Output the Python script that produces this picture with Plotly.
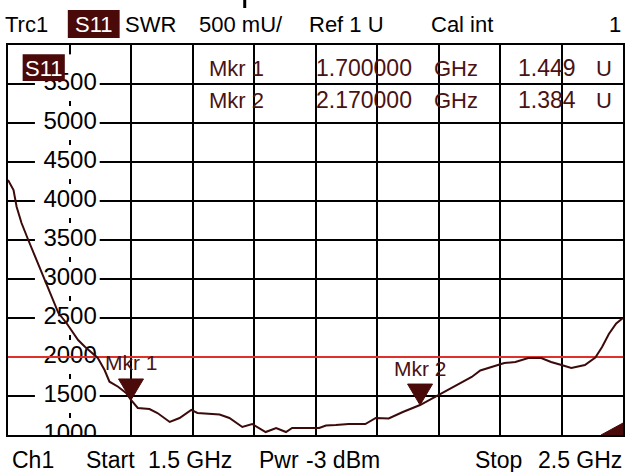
import plotly.graph_objects as go

# ---------------- data ----------------
freq_ghz = [1.500, 1.509, 1.514, 1.522, 1.533, 1.544, 1.555, 1.565, 1.573, 1.582,
            1.595, 1.603, 1.614, 1.625, 1.636, 1.646, 1.657, 1.665, 1.679, 1.692,
            1.700, 1.711, 1.730, 1.743, 1.763, 1.779, 1.798, 1.808, 1.844, 1.860,
            1.881, 1.897, 1.919, 1.936, 1.952, 1.962, 2.006, 2.017, 2.033, 2.054,
            2.081, 2.098, 2.119, 2.142, 2.170, 2.195, 2.216, 2.237, 2.254, 2.268,
            2.289, 2.307, 2.325, 2.346, 2.367, 2.383, 2.400, 2.416, 2.438, 2.455,
            2.466, 2.477, 2.489, 2.500]
swr_mu = [4269, 4141, 3927, 3718, 3500, 3286, 3077, 2901, 2731, 2564,
          2436, 2346, 2218, 2132, 2051, 1987, 1833, 1683, 1619, 1538,
          1449, 1346, 1333, 1282, 1167, 1218, 1321, 1282, 1263, 1218,
          1103, 1141, 1038, 1090, 1038, 1090, 1090, 1122, 1128, 1141,
          1141, 1218, 1212, 1295, 1384, 1491, 1577, 1667, 1744, 1827,
          1878, 1923, 1936, 1987, 1987, 1936, 1897, 1859, 1897, 1994,
          2128, 2295, 2429, 2500]

y_tick_values = [1000, 1500, 2000, 2500, 3000, 3500, 4000, 4500, 5000, 5500]
y_tick_labels = ["1000", "1500", "2000", "2500", "3000", "3500", "4000", "4500", "5000", "5500"]
label_axis_ghz = 1.601

marker_names = ["Mkr 1", "Mkr 2"]
marker_freq_ghz = [1.700, 2.170]
marker_swr_u = [1.449, 1.384]
limit_mu = 2000
ref_mu = 1000

x_start, x_stop = 1.5, 2.5
y_min, y_max = 1000, 6000

# ---------------- layout helpers ----------------
W, H = 625, 472
ML, MR, MT, MB = 8, 0, 45, 37
PW, PH = W - ML - MR, H - MT - MB
MAROON = "#4a0a0a"
TRACE = "#3b0b0b"
TXT_M = "#4a1212"
FONT = "Liberation Sans, Arial, sans-serif"


def px(xp):  # page pixel -> paper x
    return (xp - ML) / PW


def py(yp):  # page pixel -> paper y
    return (MT + PH - yp) / PH


fig = go.Figure()

# y-axis labels drawn inside the plot area (clipped)
fig.add_trace(go.Scatter(
    x=[label_axis_ghz] * len(y_tick_values), y=y_tick_values, text=y_tick_labels,
    mode="text", textposition="middle center",
    textfont=dict(family=FONT, size=24, color="black"),
    cliponaxis=True, hoverinfo="skip", showlegend=False))

# limit line
fig.add_trace(go.Scatter(
    x=[x_start, x_stop], y=[limit_mu, limit_mu], mode="lines",
    line=dict(color="#e0302c", width=2), hoverinfo="skip", showlegend=False))

# SWR trace
fig.add_trace(go.Scatter(
    x=freq_ghz, y=swr_mu, mode="lines",
    line=dict(color=TRACE, width=2), showlegend=False))

shapes = []
# white boxes behind the y labels
for v in y_tick_values:
    shapes.append(dict(type="rect", xref="x", yref="y", x0=1.5438, x1=1.6491,
                       y0=v - 218, y1=v + 218, fillcolor="white",
                       line=dict(width=0), layer="between"))
shapes.append(dict(type="rect", xref="x", yref="y", x0=1.585, x1=1.62,
                   y0=5600, y1=5880, fillcolor="white", line=dict(width=0), layer="between"))

# marker triangles (tip at the marker value)
for f, v in zip(marker_freq_ghz, marker_swr_u):
    shapes.append(dict(type="path", xref="x", yref="y", xsizemode="pixel", ysizemode="pixel",
                       xanchor=f, yanchor=v * 1000, path="M 0,0 L -12.5,21 L 12.5,21 Z",
                       fillcolor=MAROON, line=dict(color=MAROON, width=1), layer="above"))
# reference level triangle at right edge
shapes.append(dict(type="path", xref="x", yref="y", xsizemode="pixel", ysizemode="pixel",
                   xanchor=x_stop, yanchor=ref_mu, path="M -22,0 L 0,12 L 0,-12 Z",
                   fillcolor=MAROON, line=dict(color=MAROON, width=1), layer="above"))

# S11 boxes
shapes.append(dict(type="rect", xref="paper", yref="paper", x0=px(68), x1=px(120),
                   y0=py(38), y1=py(10), fillcolor=MAROON, line=dict(width=0), layer="above"))
shapes.append(dict(type="rect", xref="paper", yref="paper", x0=px(22.7), x1=px(65),
                   y0=py(81), y1=py(54.3), fillcolor=MAROON, line=dict(width=0), layer="above"))
# small bar at very top
shapes.append(dict(type="rect", xref="paper", yref="paper", x0=px(244), x1=px(247),
                   y0=py(8), y1=py(0), fillcolor="black", line=dict(width=0), layer="above"))

ann = []


def text_at(t, xl, yc, size=22, color="black", anchor="left"):
    ann.append(dict(text=t, x=px(xl), y=py(yc), xref="paper", yref="paper",
                    xanchor=anchor, yanchor="middle", showarrow=False,
                    font=dict(family=FONT, size=size, color=color)))


# header
for t, xl in [("Trc1", 3), ("SWR", 123), ("500 mU/", 198), ("Ref 1 U", 308),
              ("Cal int", 430), ("1", 609)]:
    text_at(t, xl, 24.5)
text_at("S11", 94, 24.5, color="white", anchor="center")
text_at("S11", 43.8, 68, color="white", anchor="center")

# footer
for t, xl in [("Ch1", 10), ("Start", 84), (f"{x_start:g} GHz", 146), ("Pwr", 258),
              ("-3 dBm", 305), ("Stop", 475), (f"{x_stop:g} GHz", 538)]:
    text_at(t, xl, 460, size=23)

# marker table
for i, (n, f, v) in enumerate(zip(marker_names, marker_freq_ghz, marker_swr_u)):
    yc = 68 + 32 * i
    text_at(n, 208, yc, color=TXT_M)
    text_at(f"{f:.6f}", 315, yc, color=TXT_M, size=23)
    text_at("GHz", 433, yc, color=TXT_M)
    text_at(f"{v:.3f}", 580, yc, color=TXT_M, size=23, anchor="right")
    text_at("U", 596, yc, color=TXT_M)

# marker labels on the trace
for n, f, v in zip(marker_names, marker_freq_ghz, marker_swr_u):
    ann.append(dict(text=n, x=f, y=v * 1000, xref="x", yref="y", xanchor="center",
                    yanchor="middle", yshift=37, showarrow=False,
                    font=dict(family=FONT, size=21, color=TXT_M)))

axis_common = dict(showgrid=True, gridcolor="black", gridwidth=2, showticklabels=False,
                   ticks="", showline=True, linecolor="black", linewidth=2, mirror=True,
                   zeroline=False, fixedrange=True)

fig.update_layout(
    width=W, height=H, margin=dict(l=ML, r=MR, t=MT, b=MB),
    paper_bgcolor="white", plot_bgcolor="white",
    xaxis=dict(range=[x_start, x_stop], tick0=x_start, dtick=0.1, **axis_common),
    yaxis=dict(range=[y_min, y_max], tick0=y_min, dtick=500, **axis_common),
    shapes=shapes, annotations=ann, showlegend=False)

fig.write_html("out.html", config={"displayModeBar": False},
               post_script="document.body.style.margin='0';document.body.style.overflow='hidden';")
